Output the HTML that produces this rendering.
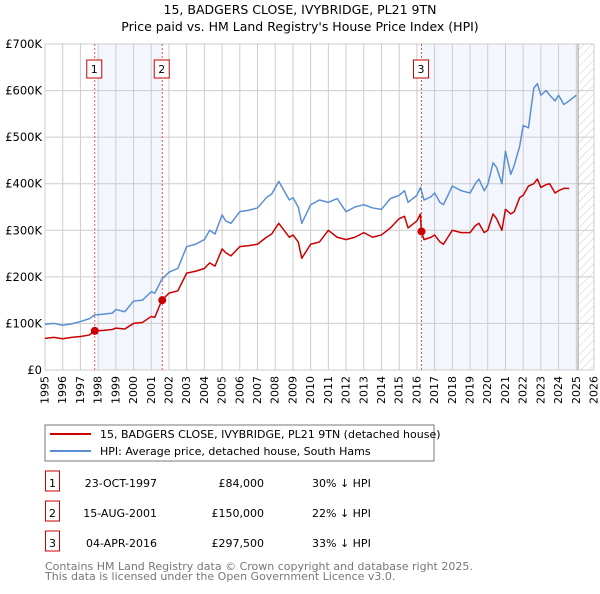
<!DOCTYPE html>
<html><head><meta charset="utf-8"><style>
body{margin:0;background:#fff;font-family:"DejaVu Sans","Liberation Sans",sans-serif;}
svg text{font-family:"DejaVu Sans","Liberation Sans",sans-serif;}
</style></head><body>
<svg id="c" width="600" height="590" xmlns="http://www.w3.org/2000/svg">
<defs><pattern id="h" width="6" height="6" patternUnits="userSpaceOnUse" patternTransform="rotate(45)"><line x1="0" y1="0" x2="0" y2="6" stroke="#ccc" stroke-width="1"/></pattern></defs>
<text x="300" y="14" text-anchor="middle" font-size="12.5" fill="#000">15, BADGERS CLOSE, IVYBRIDGE, PL21 9TN</text>
<text x="300" y="31" text-anchor="middle" font-size="12.5" fill="#000">Price paid vs. HM Land Registry's House Price Index (HPI)</text>
<g id="plot"></g>
<rect x="45" y="425" width="389" height="36" fill="#fff" stroke="#777"/>
<line x1="50" y1="434" x2="91" y2="434" stroke="#cc0000" stroke-width="2"/>
<text x="100" y="438" font-size="11">15, BADGERS CLOSE, IVYBRIDGE, PL21 9TN (detached house)</text>
<line x1="50" y1="451" x2="91" y2="451" stroke="#5b8fd4" stroke-width="2"/>
<text x="100" y="455" font-size="11">HPI: Average price, detached house, South Hams</text>
<g id="tbl" font-size="11"></g>
<text x="45" y="570" font-size="11" fill="#777">Contains HM Land Registry data © Crown copyright and database right 2025.</text>
<text x="45" y="580" font-size="11" fill="#777">This data is licensed under the Open Government Licence v3.0.</text>
</svg>
<script>
const hpiYears=[1995,1995.5,1996,1996.5,1997,1997.5,1997.8,1998.3,1998.8,1999,1999.5,2000,2000.5,2001,2001.2,2001.6,2002,2002.5,2003,2003.5,2004,2004.3,2004.6,2005,2005.2,2005.5,2006,2006.5,2007,2007.5,2007.8,2008.2,2008.5,2008.8,2009,2009.3,2009.5,2010,2010.5,2011,2011.5,2012,2012.5,2013,2013.5,2014,2014.5,2015,2015.3,2015.5,2016,2016.2,2016.4,2016.8,2017,2017.3,2017.5,2018,2018.5,2019,2019.3,2019.5,2019.8,2020,2020.3,2020.5,2020.8,2021,2021.3,2021.5,2021.8,2022,2022.3,2022.6,2022.8,2023,2023.3,2023.5,2023.8,2024,2024.3,2024.6,2025];
const hpiValues=[98,100,96,99,104,110,118,120,122,130,125,148,150,168,165,195,210,218,265,270,280,300,292,333,320,315,340,343,348,370,378,405,385,365,370,350,315,355,365,360,368,340,350,355,348,345,368,375,385,360,375,392,365,372,380,360,355,395,385,380,400,410,385,398,445,435,400,470,420,440,480,525,520,605,615,590,600,590,578,590,570,578,590];
const redYears=[1995,1995.5,1996,1996.5,1997,1997.5,1997.8,1998.3,1998.8,1999,1999.5,2000,2000.5,2001,2001.2,2001.6,2002,2002.5,2003,2003.5,2004,2004.3,2004.6,2005,2005.2,2005.5,2006,2006.5,2007,2007.5,2007.8,2008.2,2008.5,2008.8,2009,2009.3,2009.5,2010,2010.5,2011,2011.5,2012,2012.5,2013,2013.5,2014,2014.5,2015,2015.3,2015.5,2016,2016.2,2016.25,2016.4,2016.8,2017,2017.3,2017.5,2018,2018.5,2019,2019.3,2019.5,2019.8,2020,2020.3,2020.5,2020.8,2021,2021.3,2021.5,2021.8,2022,2022.3,2022.6,2022.8,2023,2023.3,2023.5,2023.8,2024,2024.3,2024.6,2025];
const redValues=[68,70,67,70,72,75,84,85,87,90,88,100,102,115,113,150,165,170,208,212,218,230,223,260,252,245,265,267,270,285,292,315,300,285,290,275,240,270,275,300,285,280,285,295,285,290,305,325,330,305,320,335,297.5,280,285,290,275,270,300,295,295,310,315,295,300,335,325,300,345,335,340,370,375,395,400,410,392,398,400,380,385,390,390];
const sales=[{n:"1",yr:1997.81,v:84,date:"23-OCT-1997",price:"£84,000",pct:"30% ↓ HPI"},{n:"2",yr:2001.62,v:150,date:"15-AUG-2001",price:"£150,000",pct:"22% ↓ HPI"},{n:"3",yr:2016.26,v:297.5,date:"04-APR-2016",price:"£297,500",pct:"33% ↓ HPI"}];
const yTicks=[0,100,200,300,400,500,600,700];
const yTickLabels=["£0","£100K","£200K","£300K","£400K","£500K","£600K","£700K"];
const xStart=1995,xEnd=2026;
const NS="http://www.w3.org/2000/svg";
const X0=45,X1=594,Y0=370,Y1=44;
const xs=y=>X0+(y-xStart)/(xEnd-xStart)*(X1-X0);
const ys=v=>Y0-v/700*(Y0-Y1);
const g=document.getElementById('plot');
function mk(t,a,p){const e=document.createElementNS(NS,t);for(const k in a)e.setAttribute(k,a[k]);(p||g).appendChild(e);return e;}
// shading
let s=mk('rect',{x:xs(1998),y:Y1,width:xs(sales[1].yr)-xs(1998),height:Y0-Y1,fill:'#eef3fc',opacity:0.7});


s=mk('rect',{x:xs(sales[2].yr),y:Y1,width:xs(2025.1)-xs(sales[2].yr),height:Y0-Y1,fill:'#eef3fc',opacity:0.7});


s=mk('rect',{x:xs(2025.1),y:Y1,width:X1-xs(2025.1),height:Y0-Y1,fill:'url(#h)'});


// grid
for(let yr=xStart;yr<=xEnd;yr++){
 const l=mk('line',{x1:xs(yr),x2:xs(yr),y1:Y1,y2:Y0,stroke:'#ccc','stroke-width':1});
 
 
 const t=mk('text',{x:0,y:0,'font-size':11,'text-anchor':'end','dominant-baseline':'central',transform:`translate(${xs(yr)},${Y0+6}) rotate(-90)`});
 t.textContent=yr;
 
 
}
yTicks.forEach((v,i)=>{
 const l=mk('line',{x1:X0,x2:X1,y1:ys(v),y2:ys(v),stroke:'#ccc','stroke-width':1});
 
 
 const t=mk('text',{x:X0-3,y:ys(v)+4,'font-size':11.5,'text-anchor':'end'});
 t.textContent=yTickLabels[i];
 
 
});
let b=mk('line',{x1:xs(2025.1),x2:xs(2025.1),y1:Y1,y2:Y0,stroke:'#999','stroke-width':1});


// sale vlines
sales.forEach(d=>{
 const l=mk('line',{x1:xs(d.yr),x2:xs(d.yr),y1:Y1,y2:Y0,stroke:'#e05555','stroke-width':1,'stroke-dasharray':'2,2'});
 
 
 const r=mk('rect',{x:xs(d.yr)-8,y:60,width:15,height:18,fill:'#fff',stroke:'#cc0000'});
 
 
 const t=mk('text',{x:xs(d.yr)-0.5,y:73,'font-size':11,'text-anchor':'middle'});
 t.textContent=d.n;
 
 
});
// lines
let p=mk('polyline',{points:hpiYears.map((y,i)=>xs(y)+','+ys(hpiValues[i])).join(' '),fill:'none',stroke:'#5b8fd4','stroke-width':1.5,'stroke-linejoin':'round'});


p=mk('polyline',{points:redYears.map((y,i)=>xs(y)+','+ys(redValues[i])).join(' '),fill:'none',stroke:'#cc0000','stroke-width':1.5,'stroke-linejoin':'round'});


sales.forEach(d=>{
 const c=mk('circle',{cx:xs(d.yr),cy:ys(d.v),r:4,fill:'#cc0000'});
 
 
});
// table
const tb=document.getElementById('tbl');
sales.forEach((d,i)=>{
 const cy=483+i*30;
 const r=mk('rect',{x:45.5,y:cy-12,width:14,height:20,fill:'#fff',stroke:'#cc0000'},tb);
 
 
 let t=mk('text',{x:52.5,y:cy+4,'text-anchor':'middle'},tb);t.textContent=d.n;
 
 
 t=mk('text',{x:157,y:cy+4,'text-anchor':'end'},tb);t.textContent=d.date;
 
 
 t=mk('text',{x:264,y:cy+4,'text-anchor':'end'},tb);t.textContent=d.price;
 
 
 t=mk('text',{x:312,y:cy+4},tb);t.textContent=d.pct;
 
 
});
</script>
</body></html>
